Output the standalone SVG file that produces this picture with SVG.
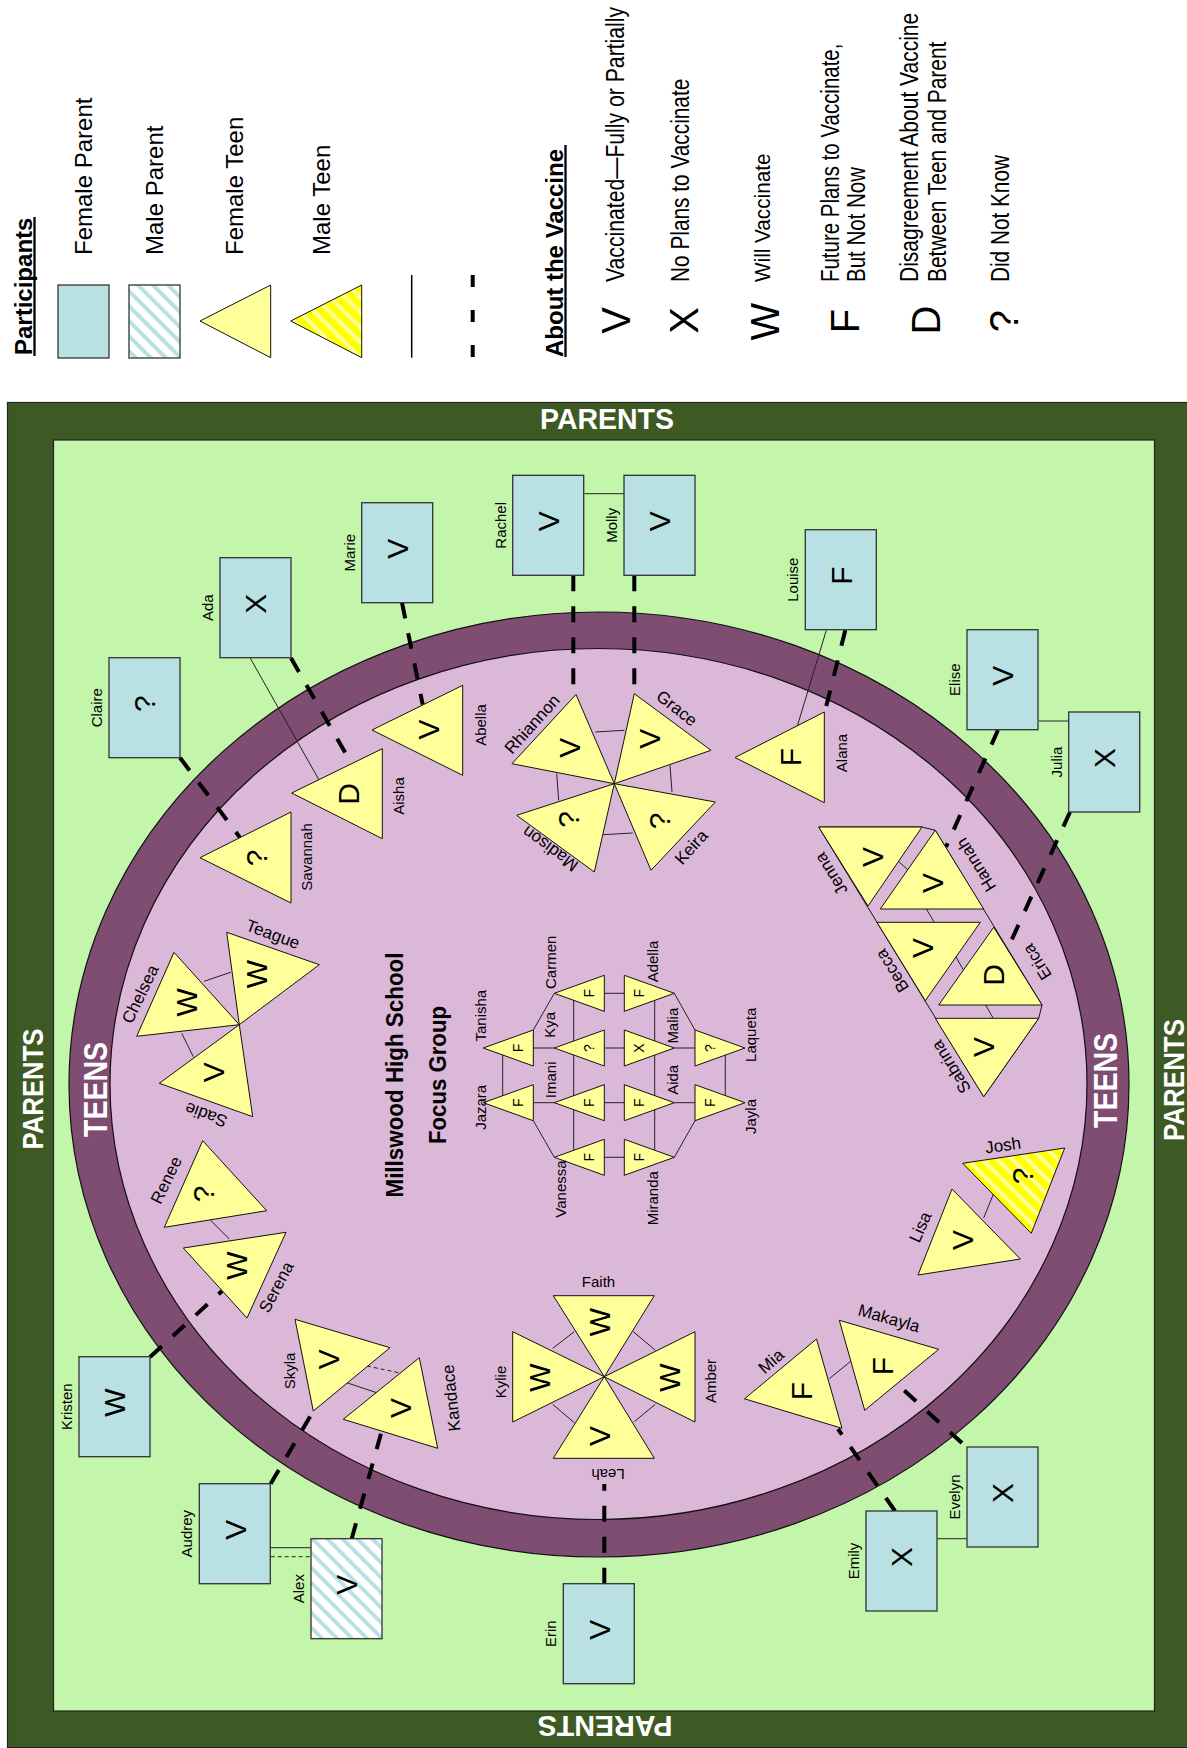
<svg xmlns="http://www.w3.org/2000/svg" width="1187" height="1748" viewBox="0 0 1187 1748">
<defs>
<pattern id="mp" width="10.6" height="10.6" patternUnits="userSpaceOnUse" patternTransform="rotate(-45)">
<rect width="10.6" height="10.6" fill="#ffffff"/>
<rect width="4" height="10.6" fill="#B9E0E3"/>
</pattern>
<pattern id="mt" width="10.6" height="10.6" patternUnits="userSpaceOnUse" patternTransform="rotate(-45)">
<rect width="10.6" height="10.6" fill="#FFFF00"/>
<rect width="4" height="10.6" fill="#FFFF99"/>
</pattern>
</defs>
<style>
text { font-family: "Liberation Sans", Arial, sans-serif; fill:#000; }
.par { fill:#B9E0E3; stroke:#333; stroke-width:1.3; }
.mpar { fill:url(#mp); stroke:#333; stroke-width:1.3; }
.teen { fill:#FFFF99; stroke:#111; stroke-width:1; }
.mteen { fill:url(#mt); stroke:#111; stroke-width:1; }
.sym { font-size:30px; text-anchor:middle; }
.gsym { font-size:14px; text-anchor:middle; }
.lbl { font-size:15px; text-anchor:middle; }
.albl { font-size:17px; text-anchor:middle; }
.leg { font-size:24px; }
.vleg { font-size:25px; }
.lsym { font-size:40px; text-anchor:middle; }
.hd { font-size:24px; font-weight:bold; }
.band { font-weight:bold; fill:#ffffff; text-anchor:middle; }
.title { font-size:23px; font-weight:bold; text-anchor:middle; }
.dash { stroke:#000; stroke-width:4; stroke-dasharray:16 15; fill:none; }
.thin { stroke:#222; stroke-width:1; fill:none; }
.tdash { stroke:#222; stroke-width:1; stroke-dasharray:4 3; fill:none; }
</style>

<!-- Legend -->
<g id="legend">
<text class="hd" transform="translate(31.5,355) rotate(-90)">Participants</text>
<line x1="34.5" y1="217" x2="34.5" y2="356" stroke="#000" stroke-width="2.3"/>
<rect class="par" x="58" y="285" width="51" height="73"/>
<rect class="mpar" x="129" y="285" width="51" height="73"/>
<polygon class="teen" points="200,321 270.7,285 270.7,357.7"/>
<polygon class="mteen" points="290.7,321 361.7,285 361.7,357.7"/>
<text class="leg" transform="translate(91.5,255) rotate(-90)">Female Parent</text>
<text class="leg" transform="translate(163,255) rotate(-90)">Male Parent</text>
<text class="leg" transform="translate(243,255) rotate(-90)">Female Teen</text>
<text class="leg" transform="translate(330,255) rotate(-90)">Male Teen</text>
<line x1="411.7" y1="275" x2="411.7" y2="357.7" stroke="#000" stroke-width="1.5"/>
<line x1="472.7" y1="275" x2="472.7" y2="357.7" stroke="#000" stroke-width="4" stroke-dasharray="12 23"/>
<text class="hd" transform="translate(562.5,357) rotate(-90)">About the Vaccine</text>
<line x1="565.5" y1="145" x2="565.5" y2="357" stroke="#000" stroke-width="2.3"/>
<text class="lsym" transform="translate(616,320.5) rotate(-90)" y="14.3">V</text>
<text class="lsym" transform="translate(684,320.5) rotate(-90)" y="14.3">X</text>
<text class="lsym" transform="translate(765,321.5) rotate(-90)" y="14.3">W</text>
<text class="lsym" transform="translate(845,321) rotate(-90)" y="14.3">F</text>
<text class="lsym" transform="translate(926,320) rotate(-90)" y="14.3">D</text>
<text class="lsym" transform="translate(1003.5,321) rotate(-90)" y="14.3">?</text>
<text class="vleg" transform="translate(624,282) rotate(-90) scale(0.848,1)">Vaccinated—Fully or Partially</text>
<text class="vleg" transform="translate(689,282) rotate(-90) scale(0.833,1)">No Plans to Vaccinate</text>
<text class="vleg" style="font-size:22px" transform="translate(770,282) rotate(-90) scale(0.941,1)">Will Vaccinate</text>
<text class="vleg" transform="translate(838.5,282) rotate(-90) scale(0.819,1)">Future Plans to Vaccinate,</text>
<text class="vleg" transform="translate(864.5,282) rotate(-90) scale(0.82,1)">But Not Now</text>
<text class="vleg" transform="translate(918,282) rotate(-90) scale(0.84,1)">Disagreement About Vaccine</text>
<text class="vleg" transform="translate(946,282) rotate(-90) scale(0.837,1)">Between Teen and Parent</text>
<text class="vleg" transform="translate(1009,282) rotate(-90) scale(0.831,1)">Did Not Know</text>
</g>

<!-- Background -->
<g id="background">
<rect x="7.5" y="402.5" width="1185" height="1345" fill="#3D5A24" stroke="#222" stroke-width="1.2"/>
<rect x="53.5" y="440" width="1101" height="1271" fill="#C3F5AB" stroke="#222" stroke-width="1.2"/>
<ellipse cx="599" cy="1084.5" rx="530" ry="472.5" fill="#7F4C72" stroke="#111" stroke-width="1.2"/>
<ellipse cx="598.5" cy="1084" rx="488.5" ry="435.5" fill="#DCB8D8" stroke="#111" stroke-width="1.2"/>
<text class="band" style="font-size:30px" x="607" y="429" textLength="134" lengthAdjust="spacingAndGlyphs">PARENTS</text>
<text class="band" style="font-size:30px" transform="translate(605,1716) rotate(180)" textLength="135" lengthAdjust="spacingAndGlyphs">PARENTS</text>
<text class="band" style="font-size:30px" transform="translate(43.3,1089) rotate(-90)" textLength="121" lengthAdjust="spacingAndGlyphs">PARENTS</text>
<text class="band" style="font-size:30px" transform="translate(1184,1080) rotate(-90)" textLength="122" lengthAdjust="spacingAndGlyphs">PARENTS</text>
<text class="band" style="font-size:34px" transform="translate(106.7,1089.5) rotate(-90)" textLength="95" lengthAdjust="spacingAndGlyphs">TEENS</text>
<text class="band" style="font-size:34px" transform="translate(1117,1080.5) rotate(-90)" textLength="95" lengthAdjust="spacingAndGlyphs">TEENS</text>
<text class="title" transform="translate(403,1075) rotate(-90)" textLength="245" lengthAdjust="spacingAndGlyphs">Millswood High School</text>
<text class="title" transform="translate(446,1075) rotate(-90)" textLength="138" lengthAdjust="spacingAndGlyphs">Focus Group</text>
<polygon points="818.7,827 922,827 935.3,830.3 1042,1005 1038.7,1018.3 983.7,1096.7" fill="#DCB8D8" stroke="#111" stroke-width="1"/>
</g>

<!-- Connectors -->
<g id="connectors">
<line class="dash" x1="180" y1="757.7" x2="240" y2="837.6"/>
<line class="dash" x1="291" y1="658" x2="351.7" y2="764"/>
<line class="dash" x1="402" y1="602.7" x2="422.7" y2="704.5"/>
<line class="dash" x1="573.3" y1="575.3" x2="573.3" y2="694"/>
<line class="dash" x1="634.3" y1="575.3" x2="634.3" y2="693.7"/>
<line class="dash" x1="845.3" y1="630.3" x2="825" y2="711"/>
<line class="dash" x1="998" y1="730" x2="946" y2="847"/>
<line class="dash" x1="1070" y1="812" x2="1007.5" y2="949"/>
<line class="dash" x1="150" y1="1357" x2="222" y2="1291"/>
<line class="dash" x1="270.7" y1="1483.7" x2="313.3" y2="1411"/>
<line class="dash" x1="351.7" y1="1538.7" x2="381.7" y2="1431"/>
<line class="dash" x1="604.3" y1="1583.7" x2="604.3" y2="1484"/>
<line class="dash" x1="895" y1="1511" x2="838" y2="1429"/>
<line class="dash" x1="962" y1="1443" x2="897" y2="1384"/>
<line class="thin" x1="584.3" y1="493.7" x2="624" y2="493.7"/>
<line class="thin" x1="1038.7" y1="721" x2="1068.7" y2="721"/>
<line class="thin" x1="270.7" y1="1547.7" x2="311" y2="1547.7"/>
<line class="tdash" x1="270.7" y1="1556.7" x2="311" y2="1556.7"/>
<line class="thin" x1="937.7" y1="1538.7" x2="967" y2="1538.7"/>
<line class="thin" x1="250" y1="657.7" x2="321.7" y2="784.7"/>
<line class="thin" x1="826.3" y1="630.3" x2="796" y2="730.3"/>
<line class="thin" x1="595.3" y1="732" x2="624.3" y2="730.3"/>
<line class="thin" x1="556.7" y1="773.7" x2="558.7" y2="800.3"/>
<line class="thin" x1="670" y1="765.3" x2="672" y2="792"/>
<line class="thin" x1="603.3" y1="834.7" x2="632.7" y2="833"/>
<line class="thin" x1="204" y1="981.3" x2="230.7" y2="972.3"/>
<line class="thin" x1="181.7" y1="1033.3" x2="193.3" y2="1056.7"/>
<line class="thin" x1="208.3" y1="1218" x2="229.3" y2="1239"/>
<line class="thin" x1="346.7" y1="1382.7" x2="376" y2="1392.5"/>
<line class="tdash" x1="367" y1="1366" x2="400" y2="1373"/>
<line class="thin" x1="552.7" y1="1348.3" x2="574.3" y2="1331.7"/>
<line class="thin" x1="633.3" y1="1331.7" x2="655.3" y2="1350.3"/>
<line class="thin" x1="552.7" y1="1404.3" x2="574.3" y2="1422.7"/>
<line class="thin" x1="634.3" y1="1421.7" x2="655.3" y2="1404.3"/>
<line class="thin" x1="829.3" y1="1378.7" x2="852" y2="1360.3"/>
<line class="thin" x1="983.7" y1="1218" x2="993.7" y2="1193.3"/>
<line class="thin" x1="897" y1="860" x2="908" y2="870"/>
<line class="thin" x1="925.3" y1="907.3" x2="935.3" y2="924"/>
<line class="thin" x1="955.3" y1="955.7" x2="964.7" y2="972.3"/>
<line class="thin" x1="984.7" y1="1003.3" x2="993.7" y2="1019"/>
<line class="thin" x1="502.7" y1="1048" x2="502.7" y2="1102.7"/>
<line class="thin" x1="533.3" y1="1048" x2="554.3" y2="1048"/>
<line class="thin" x1="533.3" y1="1102.7" x2="554.3" y2="1102.7"/>
<line class="thin" x1="533.3" y1="1030" x2="554.3" y2="993.3"/>
<line class="thin" x1="533.3" y1="1120.7" x2="554.3" y2="1157.3"/>
<line class="thin" x1="573.7" y1="993.3" x2="573.7" y2="1157.3"/>
<line class="thin" x1="654.7" y1="993.3" x2="654.7" y2="1157.3"/>
<line class="thin" x1="604.3" y1="993.3" x2="624.3" y2="993.3"/>
<line class="thin" x1="604.3" y1="1048" x2="624.3" y2="1048"/>
<line class="thin" x1="604.3" y1="1102.7" x2="624.3" y2="1102.7"/>
<line class="thin" x1="604.3" y1="1157.3" x2="624.3" y2="1157.3"/>
<line class="thin" x1="674.3" y1="993.3" x2="695" y2="1030"/>
<line class="thin" x1="674.3" y1="1157.3" x2="695" y2="1120.7"/>
<line class="thin" x1="674.3" y1="1048" x2="695" y2="1048"/>
<line class="thin" x1="674.3" y1="1102.7" x2="695" y2="1102.7"/>
<line class="thin" x1="725.3" y1="1048" x2="725.3" y2="1102.7"/>
</g>

<!-- Parents -->
<g id="parent-claire"><rect class="par" x="109" y="657.7" width="71" height="100"/><text class="sym" transform="translate(144.5,703.7) rotate(-90)" y="10.7">?</text><text class="lbl" transform="translate(102,707.7) rotate(-90)">Claire</text></g>
<g id="parent-ada"><rect class="par" x="220" y="557.7" width="71" height="100"/><text class="sym" transform="translate(255.5,603.7) rotate(-90)" y="10.7">X</text><text class="lbl" transform="translate(213,607.7) rotate(-90)">Ada</text></g>
<g id="parent-marie"><rect class="par" x="361.7" y="502.7" width="71" height="100"/><text class="sym" transform="translate(397.2,548.7) rotate(-90)" y="10.7">V</text><text class="lbl" transform="translate(354.7,552.7) rotate(-90)">Marie</text></g>
<g id="parent-rachel"><rect class="par" x="512.7" y="475.3" width="71" height="100"/><text class="sym" transform="translate(548.2,521.3) rotate(-90)" y="10.7">V</text><text class="lbl" transform="translate(505.7,525.3) rotate(-90)">Rachel</text></g>
<g id="parent-molly"><rect class="par" x="624" y="475.3" width="71" height="100"/><text class="sym" transform="translate(659.5,521.3) rotate(-90)" y="10.7">V</text><text class="lbl" transform="translate(617,525.3) rotate(-90)">Molly</text></g>
<g id="parent-louise"><rect class="par" x="805.3" y="529.7" width="71" height="100"/><text class="sym" transform="translate(840.8,575.7) rotate(-90)" y="10.7">F</text><text class="lbl" transform="translate(798.3,579.7) rotate(-90)">Louise</text></g>
<g id="parent-elise"><rect class="par" x="967" y="629.7" width="71" height="100"/><text class="sym" transform="translate(1002.5,675.7) rotate(-90)" y="10.7">V</text><text class="lbl" transform="translate(960,679.7) rotate(-90)">Elise</text></g>
<g id="parent-julia"><rect class="par" x="1068.7" y="712" width="71" height="100"/><text class="sym" transform="translate(1104.2,758) rotate(-90)" y="10.7">X</text><text class="lbl" transform="translate(1061.7,762) rotate(-90)">Julia</text></g>
<g id="parent-kristen"><rect class="par" x="79" y="1356.7" width="71" height="100"/><text class="sym" transform="translate(114.5,1402.7) rotate(-90)" y="10.7">W</text><text class="lbl" transform="translate(72,1406.7) rotate(-90)">Kristen</text></g>
<g id="parent-audrey"><rect class="par" x="199.3" y="1483.7" width="71" height="100"/><text class="sym" transform="translate(234.8,1529.7) rotate(-90)" y="10.7">V</text><text class="lbl" transform="translate(192.3,1533.7) rotate(-90)">Audrey</text></g>
<g id="parent-alex"><rect class="mpar" x="311" y="1538.7" width="71" height="100"/><text class="sym" transform="translate(346.5,1584.7) rotate(-90)" y="10.7">V</text><text class="lbl" transform="translate(304,1588.7) rotate(-90)">Alex</text></g>
<g id="parent-erin"><rect class="par" x="563.3" y="1583.7" width="71" height="100"/><text class="sym" transform="translate(598.8,1629.7) rotate(-90)" y="10.7">V</text><text class="lbl" transform="translate(556.3,1633.7) rotate(-90)">Erin</text></g>
<g id="parent-emily"><rect class="par" x="866" y="1511" width="71" height="100"/><text class="sym" transform="translate(901.5,1557) rotate(-90)" y="10.7">X</text><text class="lbl" transform="translate(859,1561) rotate(-90)">Emily</text></g>
<g id="parent-evelyn"><rect class="par" x="967" y="1447" width="71" height="100"/><text class="sym" transform="translate(1002.5,1493) rotate(-90)" y="10.7">X</text><text class="lbl" transform="translate(960,1497) rotate(-90)">Evelyn</text></g>

<!-- Teens -->
<g id="teen-savannah"><polygon class="teen" points="200,857.7 291,812 291,903"/><text class="sym" transform="translate(256,858) rotate(-90)" y="10.7">?</text><text class="lbl" transform="translate(311.5,857) rotate(-90)">Savannah</text></g>
<g id="teen-aisha"><polygon class="teen" points="291.7,793 382.3,748.7 382.3,838.7"/><text class="sym" transform="translate(348,794) rotate(-90)" y="10.7">D</text><text class="lbl" transform="translate(404,796) rotate(-90)">Aisha</text></g>
<g id="teen-abella"><polygon class="teen" points="372,730 462.7,685.3 462.7,775.3"/><text class="sym" transform="translate(428.5,729.5) rotate(-90)" y="10.7">V</text><text class="lbl" transform="translate(486,725) rotate(-90)">Abella</text></g>
<g id="teen-rhiannon"><polygon class="teen" points="576,694.5 512,763.7 614.3,783.7"/><text class="sym" transform="translate(569.3,747.8) rotate(-90)" y="10.7">V</text><text class="albl" transform="translate(532,724) rotate(-48)" y="6">Rhiannon</text></g>
<g id="teen-grace"><polygon class="teen" points="634.3,693.7 711,750.3 614.3,783.7"/><text class="sym" transform="translate(649.3,738.7) rotate(-90)" y="10.7">V</text><text class="albl" transform="translate(677,708) rotate(38)" y="6">Grace</text></g>
<g id="teen-madison"><polygon class="teen" points="516.7,815.3 614.3,783.7 594.3,872"/><text class="sym" transform="translate(568.5,819.5) rotate(-90)" y="10.7">?</text><text class="albl" transform="translate(550,849) rotate(216)" y="6">Madison</text></g>
<g id="teen-keira"><polygon class="teen" points="614.3,783.7 715.3,802 651,870.3"/><text class="sym" transform="translate(659.3,821) rotate(-90)" y="10.7">?</text><text class="albl" transform="translate(691,847) rotate(-48)" y="6">Keira</text></g>
<g id="teen-alana"><polygon class="teen" points="735,757.5 824.3,712 824.3,802.7"/><text class="sym" transform="translate(790,757) rotate(-90)" y="10.7">F</text><text class="lbl" transform="translate(847,753) rotate(-90)">Alana</text></g>
<g id="teen-jenna"><polygon class="teen" points="818.7,827 922,827 868,906"/><text class="sym" transform="translate(872,857) rotate(-90)" y="10.7">V</text><text class="albl" transform="translate(831,874) rotate(238)" y="6">Jenna</text></g>
<g id="teen-hannah"><polygon class="teen" points="935.3,830.3 880.3,909 983.7,909"/><text class="sym" transform="translate(932,883) rotate(-90)" y="10.7">V</text><text class="albl" transform="translate(976,865) rotate(238)" y="6">Hannah</text></g>
<g id="teen-becca"><polygon class="teen" points="877,922.3 980.3,922.3 925.3,1000.7"/><text class="sym" transform="translate(922,948) rotate(-90)" y="10.7">V</text><text class="albl" transform="translate(892,971) rotate(238)" y="6">Becca</text></g>
<g id="teen-erica"><polygon class="teen" points="993.7,927.3 938.7,1005 1042,1005"/><text class="sym" transform="translate(993.5,975) rotate(-90)" y="10.7">D</text><text class="albl" transform="translate(1037,962) rotate(238)" y="6">Erica</text></g>
<g id="teen-sabrina"><polygon class="teen" points="935.3,1018.3 1038.7,1018.3 983.7,1096.7"/><text class="sym" transform="translate(983.5,1047) rotate(-90)" y="10.7">V</text><text class="albl" transform="translate(951,1067) rotate(238)" y="6">Sabrina</text></g>
<g id="teen-chelsea"><polygon class="teen" points="174,952.3 136.7,1036.3 239.3,1024.7"/><text class="sym" transform="translate(186.7,1002.3) rotate(-90)" y="10.7">W</text><text class="albl" transform="translate(140,994) rotate(-64)" y="6">Chelsea</text></g>
<g id="teen-teague"><polygon class="teen" points="226.7,932.3 319.3,964.7 239.3,1024.7"/><text class="sym" transform="translate(256.7,974) rotate(-90)" y="10.7">W</text><text class="albl" transform="translate(273,934) rotate(20)" y="6">Teague</text></g>
<g id="teen-sadie"><polygon class="teen" points="239.3,1024.7 159.3,1083.3 252.7,1116.7"/><text class="sym" transform="translate(213.3,1072.3) rotate(-90)" y="10.7">V</text><text class="albl" transform="translate(206,1115) rotate(200)" y="6">Sadie</text></g>
<g id="teen-renee"><polygon class="teen" points="202.7,1140.7 266.7,1210.7 164.3,1227.3"/><text class="sym" transform="translate(203.3,1194) rotate(-90)" y="10.7">?</text><text class="albl" transform="translate(166,1180) rotate(-64)" y="6">Renee</text></g>
<g id="teen-serena"><polygon class="teen" points="183.3,1248 286,1232.3 247,1318"/><text class="sym" transform="translate(236.7,1265.7) rotate(-90)" y="10.7">W</text><text class="albl" transform="translate(276,1287) rotate(-62)" y="6">Serena</text></g>
<g id="teen-skyla"><polygon class="teen" points="295,1319.3 390,1347.7 313.3,1411"/><text class="sym" transform="translate(328.3,1359.3) rotate(-90)" y="10.7">V</text><text class="lbl" transform="translate(295,1371) rotate(-90)">Skyla</text></g>
<g id="teen-kandace"><polygon class="teen" points="343.3,1419.3 419.3,1357.7 437.7,1448.3"/><text class="sym" transform="translate(400,1408) rotate(-90)" y="10.7">V</text><text class="albl" transform="translate(451,1398) rotate(-96)" y="6">Kandace</text></g>
<g id="teen-faith"><polygon class="teen" points="553.3,1295.7 654.3,1295.7 604.3,1376.7"/><text class="sym" transform="translate(599,1322) rotate(-90)" y="10.7">W</text><text class="lbl" x="598.5" y="1287">Faith</text></g>
<g id="teen-kylie"><polygon class="teen" points="604.3,1376.7 512.7,1331.7 512.7,1422"/><text class="sym" transform="translate(539.3,1377.7) rotate(-90)" y="10.7">W</text><text class="lbl" transform="translate(506,1382) rotate(-90)">Kylie</text></g>
<g id="teen-amber"><polygon class="teen" points="604.3,1376.7 695,1331.7 695,1422"/><text class="sym" transform="translate(669.3,1377.7) rotate(-90)" y="10.7">W</text><text class="lbl" transform="translate(716,1381) rotate(-90)">Amber</text></g>
<g id="teen-leah"><polygon class="teen" points="604.3,1376.7 553.3,1458.3 654.3,1458.3"/><text class="sym" transform="translate(599.3,1436) rotate(-90)" y="10.7">V</text><text class="lbl" transform="translate(608,1474) rotate(180)" y="5">Leah</text></g>
<g id="teen-mia"><polygon class="teen" points="816.5,1339 744.5,1398.8 842,1428.3"/><text class="sym" transform="translate(801,1391) rotate(-90)" y="10.7">F</text><text class="albl" transform="translate(771,1361) rotate(-42)" y="6">Mia</text></g>
<g id="teen-makayla"><polygon class="teen" points="839.3,1320.3 938.7,1349.3 864.7,1410.3"/><text class="sym" transform="translate(882,1366) rotate(-90)" y="10.7">F</text><text class="albl" transform="translate(889,1318) rotate(16)" y="6">Makayla</text></g>
<g id="teen-josh"><polygon class="mteen" points="962.7,1163.3 1064.7,1148 1031.3,1233.3"/><text class="sym" transform="translate(1022,1176) rotate(-90)" y="10.7">?</text><text class="albl" transform="translate(1003,1145) rotate(-8)" y="6">Josh</text></g>
<g id="teen-lisa"><polygon class="teen" points="952,1189 1020.3,1259 918,1275"/><text class="sym" transform="translate(962,1240) rotate(-90)" y="10.7">V</text><text class="albl" transform="translate(920,1227) rotate(-66)" y="6">Lisa</text></g>

<!-- Focus group grid -->
<g id="teen-tanisha"><polygon class="teen" points="483.3,1048 533.3,1030 533.3,1066"/><text class="gsym" transform="translate(517.8,1048) rotate(-90)" y="5">F</text><text class="lbl" transform="translate(486,1015.7) rotate(-90)">Tanisha</text></g>
<g id="teen-jazara"><polygon class="teen" points="483.3,1102.7 533.3,1084.7 533.3,1120.7"/><text class="gsym" transform="translate(517.8,1102.7) rotate(-90)" y="5">F</text><text class="lbl" transform="translate(486,1107.3) rotate(-90)">Jazara</text></g>
<g id="teen-carmen"><polygon class="teen" points="554.3,993.3 604.3,975.3 604.3,1011.3"/><text class="gsym" transform="translate(588.8,993.3) rotate(-90)" y="5">F</text><text class="lbl" transform="translate(556,962.3) rotate(-90)">Carmen</text></g>
<g id="teen-kya"><polygon class="teen" points="554.3,1048 604.3,1030 604.3,1066"/><text class="gsym" transform="translate(588.8,1048) rotate(-90)" y="5">?</text><text class="lbl" transform="translate(555,1024.8) rotate(-90)">Kya</text></g>
<g id="teen-imani"><polygon class="teen" points="554.3,1102.7 604.3,1084.7 604.3,1120.7"/><text class="gsym" transform="translate(588.8,1102.7) rotate(-90)" y="5">F</text><text class="lbl" transform="translate(556,1079.8) rotate(-90)">Imani</text></g>
<g id="teen-vanessa"><polygon class="teen" points="554.3,1157.3 604.3,1139.3 604.3,1175.3"/><text class="gsym" transform="translate(588.8,1157.3) rotate(-90)" y="5">F</text><text class="lbl" transform="translate(566,1189) rotate(-90)">Vanessa</text></g>
<g id="teen-adella"><polygon class="teen" points="624.3,975.3 624.3,1011.3 674.3,993.3"/><text class="gsym" transform="translate(638.8,993.3) rotate(-90)" y="5">F</text><text class="lbl" transform="translate(657.7,961.5) rotate(-90)">Adella</text></g>
<g id="teen-malia"><polygon class="teen" points="624.3,1030 624.3,1066 674.3,1048"/><text class="gsym" transform="translate(638.8,1048) rotate(-90)" y="5">X</text><text class="lbl" transform="translate(677.7,1025.7) rotate(-90)">Malia</text></g>
<g id="teen-aida"><polygon class="teen" points="624.3,1084.7 624.3,1120.7 674.3,1102.7"/><text class="gsym" transform="translate(638.8,1102.7) rotate(-90)" y="5">F</text><text class="lbl" transform="translate(677.7,1079.8) rotate(-90)">Aida</text></g>
<g id="teen-miranda"><polygon class="teen" points="624.3,1139.3 624.3,1175.3 674.3,1157.3"/><text class="gsym" transform="translate(638.8,1157.3) rotate(-90)" y="5">F</text><text class="lbl" transform="translate(657.7,1198.2) rotate(-90)">Miranda</text></g>
<g id="teen-laqueta"><polygon class="teen" points="695,1030 695,1066 745,1048"/><text class="gsym" transform="translate(709.5,1048) rotate(-90)" y="5">?</text><text class="lbl" transform="translate(756,1034.8) rotate(-90)">Laqueta</text></g>
<g id="teen-jayla"><polygon class="teen" points="695,1084.7 695,1120.7 745,1102.7"/><text class="gsym" transform="translate(709.5,1102.7) rotate(-90)" y="5">F</text><text class="lbl" transform="translate(756,1116.5) rotate(-90)">Jayla</text></g>
</svg>
